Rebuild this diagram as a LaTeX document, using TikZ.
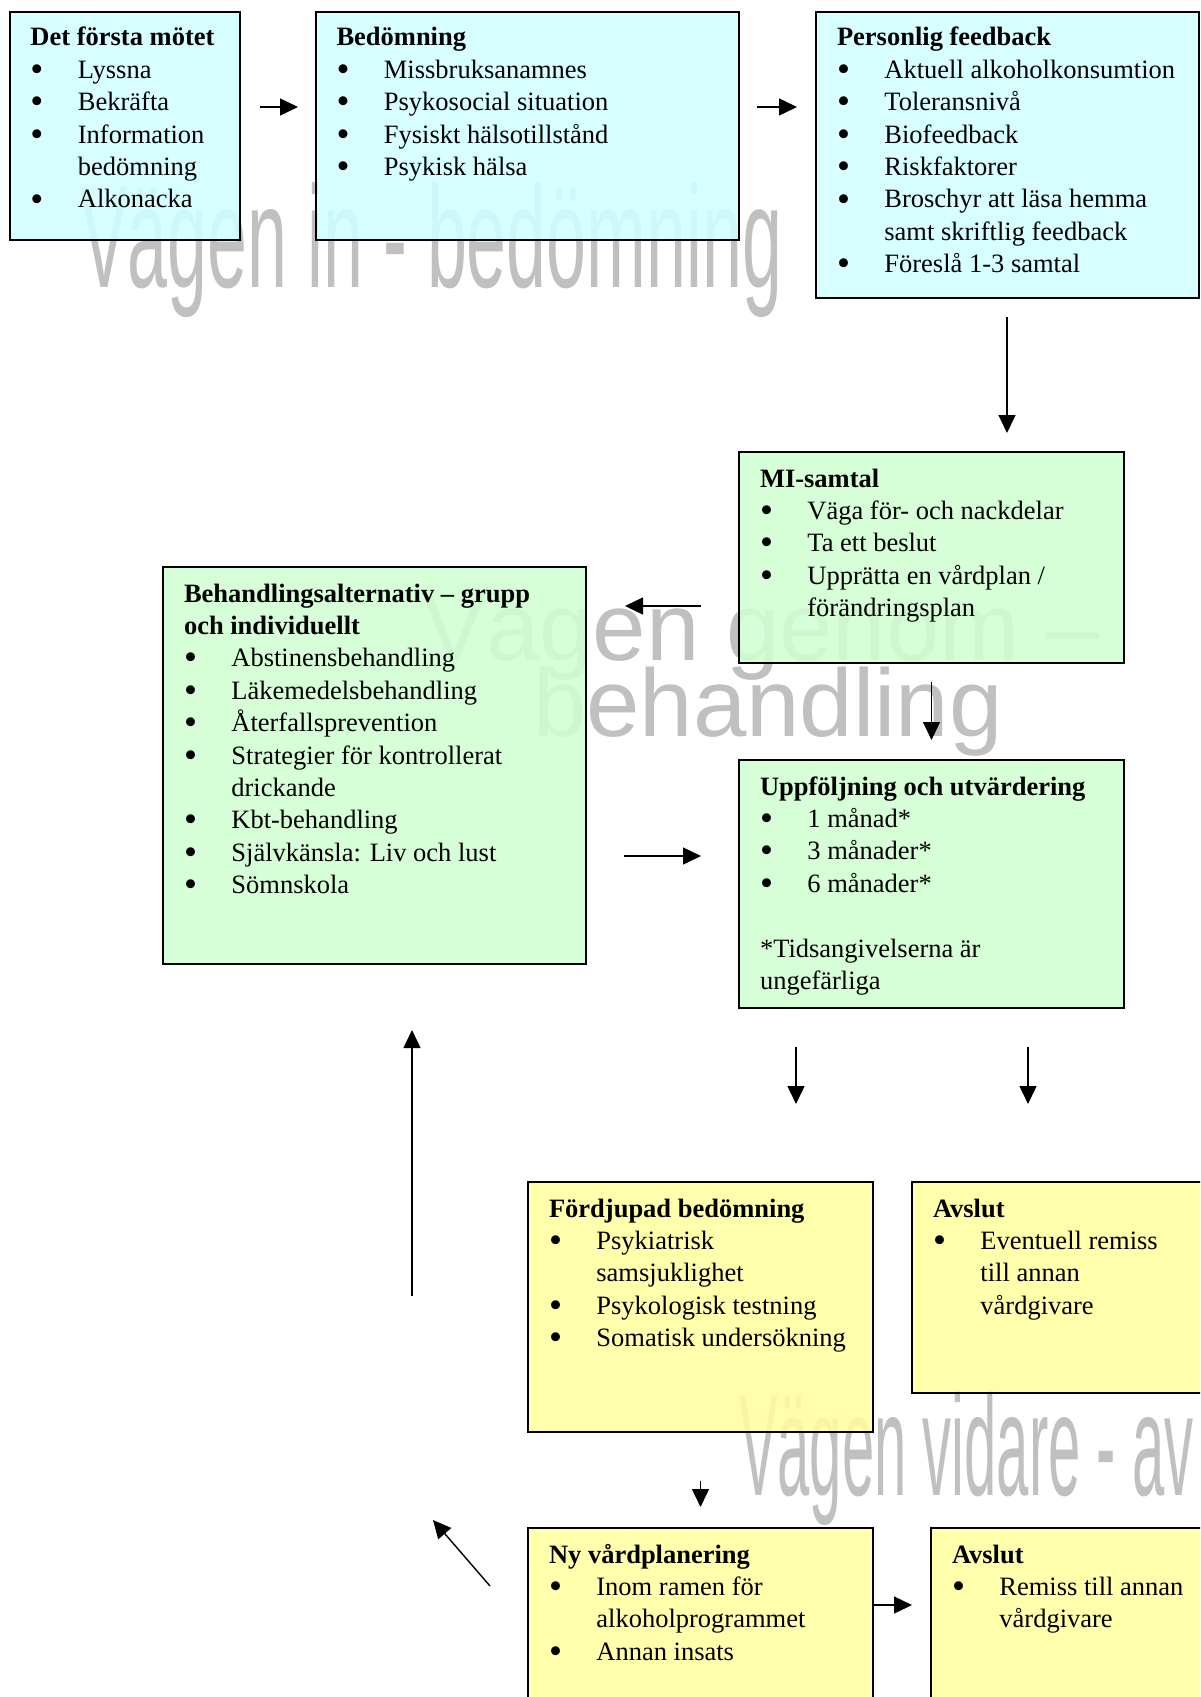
\documentclass[tikz,border=0pt]{standalone}
\usepackage{fontspec}
\usepackage{graphicx}
\setmainfont{Liberation Serif}
\newfontfamily\wmfont{Liberation Sans}
\usetikzlibrary{arrows.meta,calc}
\definecolor{cyanbox}{HTML}{D2FFFF}
\definecolor{greenbox}{HTML}{D2FFD2}
\definecolor{yellowbox}{HTML}{FFFFA0}
\definecolor{wmgray}{HTML}{C0C0C0}
\tikzset{
  box/.style={draw=black, line width=1pt, inner sep=0pt, outer sep=0pt, anchor=north west, fill opacity=0.88},
  txt/.style={inner sep=0pt, outer sep=0pt, anchor=base west,
    font=\fontsize{13.25}{16.2}\selectfont, align=left},
  arr/.style={line width=0.7pt, -{Triangle[length=9pt,width=8.5pt]}},
  wm/.style={inner sep=0pt, outer sep=0pt, text=wmgray},
  wmnarrow/.style={wm, anchor=base west, font=\wmfont\fontsize{72.5}{72.5}\selectfont},
  wmwide/.style={wm, anchor=base, font=\wmfont\fontsize{48}{48}\selectfont}
}
\newcommand\mybox[6]{\node[box, fill=#6, minimum width={(#4-#2)*0.5pt}, minimum height={(#5-#3)*0.5pt}] (#1) at (#2,#3) {};}
\newcommand\bul{\raisebox{-0.12em}{\scalebox{1.4}{\textbullet}}}
\newcommand\ttl[1]{\multicolumn{2}{@{}l@{}}{\textbf{#1}}}
\newenvironment{blist}{\begin{tabular}[t]{@{}p{23.7pt}@{}l@{}}}{\end{tabular}}
\begin{document}
\begin{tikzpicture}[x=0.5pt,y=-0.5pt]
\useasboundingbox (0,0) rectangle (1200,1697);
\clip (0,0) rectangle (1200,1697);
% watermarks
\node[wmnarrow] (w1) at (80,287) {\scalebox{0.495}[1]{Vägen in - bedömning}};
\node[wmwide] (w2a) at (761,660) {Vägen genom –};
\node[wmwide] (w2b) at (768,736) {behandling};
\node[wmnarrow] (w3) at (739,1495) {\scalebox{0.40}[1]{Vägen vidare - av}};
% boxes
\mybox{fm}{10}{12}{240}{240}{cyanbox}
\mybox{bed}{316}{12}{739}{240}{cyanbox}
\mybox{pf}{816}{12}{1199}{298}{cyanbox}
\mybox{mi}{739}{452}{1124}{663}{greenbox}
\mybox{beh}{163}{567}{586}{964}{greenbox}
\mybox{upp}{739}{760}{1124}{1008}{greenbox}
\mybox{ford}{528}{1182}{873}{1432}{yellowbox}
\mybox{av1}{912}{1182}{1240}{1393}{yellowbox}
\mybox{ny}{528}{1528}{873}{1720}{yellowbox}
\mybox{av2}{931}{1528}{1240}{1720}{yellowbox}
% texts
\node[txt] (fmt) at (30.5,46) {\begin{blist}
\ttl{Det första mötet}\\
\bul & Lyssna\\
\bul & Bekräfta\\
\bul & Information\\
 & bedömning\\
\bul & Alkonacka
\end{blist}};
\node[txt] (bedt) at (336.5,46) {\begin{blist}
\ttl{Bedömning}\\
\bul & Missbruksanamnes\\
\bul & Psykosocial situation\\
\bul & Fysiskt hälsotillstånd\\
\bul & Psykisk hälsa
\end{blist}};
\node[txt] (pft) at (837,46) {\begin{blist}
\ttl{Personlig feedback}\\
\bul & Aktuell alkoholkonsumtion\\
\bul & Toleransnivå\\
\bul & Biofeedback\\
\bul & Riskfaktorer\\
\bul & Broschyr att läsa hemma\\
 & samt skriftlig feedback\\
\bul & Föreslå 1-3 samtal
\end{blist}};
\node[txt] (mit) at (760,487) {\begin{blist}
\ttl{MI-samtal}\\
\bul & Väga för- och nackdelar\\
\bul & Ta ett beslut\\
\bul & Upprätta en vårdplan /\\
 & förändringsplan
\end{blist}};
\node[txt] (beht) at (184,602) {\begin{blist}
\ttl{Behandlingsalternativ – grupp}\\
\ttl{och individuellt}\\
\bul & Abstinensbehandling\\
\bul & Läkemedelsbehandling\\
\bul & Återfallsprevention\\
\bul & Strategier för kontrollerat\\
 & drickande\\
\bul & Kbt-behandling\\
\bul & Självkänsla: Liv och lust\\
\bul & Sömnskola
\end{blist}};
\node[txt] (uppt) at (760,795) {\begin{blist}
\ttl{Uppföljning och utvärdering}\\
\bul & 1 månad*\\
\bul & 3 månader*\\
\bul & 6 månader*\\
\multicolumn{2}{@{}l@{}}{}\\
\multicolumn{2}{@{}l@{}}{*Tidsangivelserna är}\\
\multicolumn{2}{@{}l@{}}{ungefärliga}
\end{blist}};
\node[txt] (fordt) at (549,1217) {\begin{blist}
\ttl{Fördjupad bedömning}\\
\bul & Psykiatrisk\\
 & samsjuklighet\\
\bul & Psykologisk testning\\
\bul & Somatisk undersökning
\end{blist}};
\node[txt] (av1t) at (933,1217) {\begin{blist}
\ttl{Avslut}\\
\bul & Eventuell remiss\\
 & till annan\\
 & vårdgivare
\end{blist}};
\node[txt] (nyt) at (549,1563) {\begin{blist}
\ttl{Ny vårdplanering}\\
\bul & Inom ramen för\\
 & alkoholprogrammet\\
\bul & Annan insats
\end{blist}};
\node[txt] (av2t) at (952,1563) {\begin{blist}
\ttl{Avslut}\\
\bul & Remiss till annan\\
 & vårdgivare
\end{blist}};
% arrows
\draw[arr] ($(fm.east|-0,107)+(20,0)$) -- ($(bed.west|-0,107)+(-18,0)$);
\draw[arr] ($(bed.east|-0,107)+(18,0)$) -- ($(pf.west|-0,107)+(-19,0)$);
\draw[arr] ($(pf.south-|1007,0)+(0,19)$) -- ($(mi.north-|1007,0)+(0,-19)$);
\draw[arr] ($(mi.west|-0,606)+(-38,0)$) -- ($(beh.east|-0,606)+(39,0)$);
\draw[arr] ($(mi.south)+(0,19)$) -- ($(upp.north)+(0,-20)$);
\draw[arr] ($(beh.east|-0,856)+(38,0)$) -- ($(upp.west|-0,856)+(-38,0)$);
\draw[arr] ($(upp.south-|796,0)+(0,39)$) -- ($(ford.north-|796,0)+(0,-78)$);
\draw[arr] ($(upp.south-|1028,0)+(0,39)$) -- ($(av1.north-|1028,0)+(0,-78)$);
\draw[arr] ($(ford.south)+(0,49)$) -- ($(ny.north)+(0,-21)$);
\draw[arr] (ny.east|-0,1605) -- ($(av2.west|-0,1605)+(-19,0)$);
\draw[arr] ($(ford.west|-0,1296)+(-116,0)$) -- ($(beh.south-|412,0)+(0,66)$);
\draw[arr] ($(ny.west|-0,1586)+(-38,0)$) -- ($(beh.south-|433,0)+(0,556)$);
\end{tikzpicture}
\end{document}
